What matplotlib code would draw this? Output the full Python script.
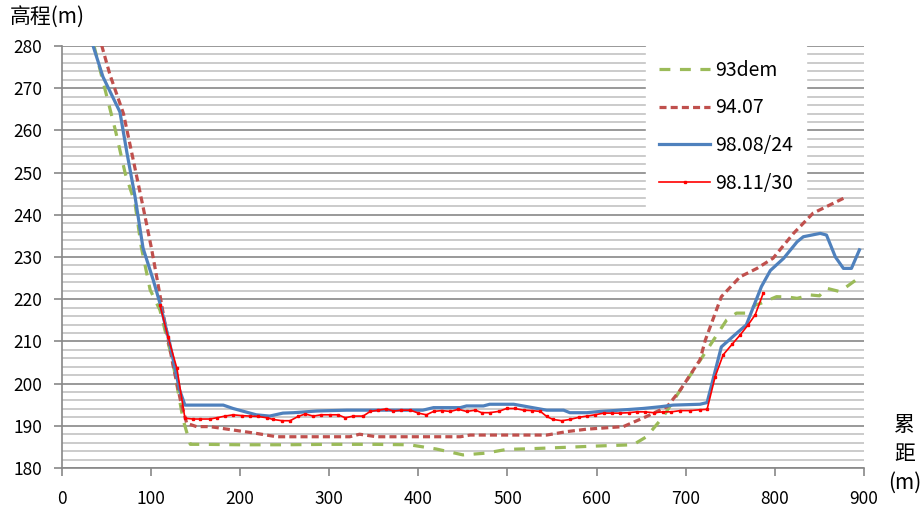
import matplotlib
matplotlib.use("Agg")
import matplotlib.pyplot as plt
from matplotlib.ticker import MultipleLocator

plt.rcParams['font.family'] = ['Noto Sans CJK SC', 'DejaVu Sans']

# 93dem
dem93_x = [36, 48, 60, 71, 82, 89, 99, 110, 124, 136, 144, 160, 200, 250, 300, 350, 390,
           420, 450, 475, 499, 530, 566, 600, 641, 656, 675, 694, 709, 724, 746, 757,
           768, 778, 784, 802, 815, 825, 840, 850, 858, 873, 894]
dem93_y = [280, 270, 260, 249.8, 242.7, 232.4, 222.2, 217.4, 205.6, 191.4, 185.6, 185.6,
           185.5, 185.5, 185.6, 185.6, 185.5, 184.5, 183.1, 183.5, 184.4, 184.6, 184.9,
           185.2, 185.5, 187.4, 192.2, 198.5, 203.2, 208, 215.1, 216.7, 216.7, 218.6,
           219, 220.6, 220.5, 220.2, 221, 220.8, 222.6, 221.8, 225]

# 94.07
r9407_x = [44.5, 54, 69, 80, 91, 100.5, 107, 115, 125, 133, 140, 151, 166, 192, 218, 241,
           300, 323, 334, 353, 400, 447, 458, 500, 544, 566, 589, 630, 656, 679, 694,
           716, 722, 740, 761, 780, 798, 821, 843, 877]
r9407_y = [280.2, 273.1, 264, 253, 241.9, 232, 224.5, 215, 204, 196, 190.6, 189.8, 189.8,
           189, 188.2, 187.4, 187.4, 187.4, 188, 187.4, 187.4, 187.4, 187.8, 187.8, 187.8,
           188.6, 189.2, 189.8, 192.2, 194.5, 198.5, 205.6, 210.3, 220.6, 225.3, 227.3,
           229.7, 235.6, 240.4, 243.9]

# 98.08/24
b9808_x = [35, 46, 54, 65, 73, 82, 91, 102.5, 110, 121, 132, 138, 160, 181, 192, 218, 233,
           248, 260, 286, 320, 357, 405, 417, 447, 454, 473, 480, 507, 544, 563, 570, 589,
           604, 619, 652, 671, 686, 716, 724, 740, 757, 768, 785, 795, 810, 825, 832, 851,
           858, 868, 877, 886, 895]
b9808_y = [280, 272.7, 269.2, 264.4, 254.6, 244.3, 232.1, 224.5, 219, 209.5, 198.5, 194.9,
           194.9, 194.9, 194.1, 192.6, 192.3, 193, 193.1, 193.5, 193.7, 193.7, 193.7,
           194.3, 194.3, 194.7, 194.7, 195.1, 195.1, 193.7, 193.7, 193.1, 193.1, 193.4,
           193.6, 194.1, 194.5, 194.9, 195.1, 195.5, 208.7, 211.9, 213.9, 223, 226.8,
           229.7, 233.6, 234.8, 235.6, 235.2, 230, 227.3, 227.3, 231.7]

# 98.11/30
r9811_x = [110, 119, 129, 138, 147, 155, 166, 174, 183, 192, 202, 211, 220, 230, 237, 247,
           256, 265, 273, 282, 291, 301, 310, 318, 327, 338, 346, 355, 364, 372, 381, 391,
           400, 409, 417, 426, 436, 445, 454, 464, 471, 480, 490, 499, 508, 518, 527, 537,
           544, 551, 561, 570, 580, 589, 598, 608, 617, 626, 636, 645, 654, 664, 675, 684,
           694, 705, 716, 724, 733, 742, 752, 761, 770, 778, 787]
r9811_y = [218.6, 211.1, 203.6, 191.8, 191.6, 191.6, 191.6, 191.9, 192.3, 192.6, 192.4,
           192.3, 192.2, 191.9, 191.5, 191.2, 191.2, 192.2, 192.8, 192.3, 192.6, 192.6,
           192.6, 191.9, 192.3, 192.3, 193.4, 193.7, 194, 193.5, 193.7, 193.7, 193, 192.6,
           193.4, 193.6, 193.4, 193.9, 193.4, 193.7, 193.1, 193.1, 193.4, 194.1, 194.1,
           193.7, 193.6, 193.4, 192.2, 191.5, 191.2, 191.5, 192, 192.3, 192.6, 193, 193,
           193, 193.1, 193.3, 193.3, 193.1, 193.3, 193.3, 193.6, 193.6, 193.8, 193.9,
           201.6, 206.8, 209.3, 211.5, 213.9, 216.3, 221.4]

fig = plt.figure(figsize=(9.22, 5.09), dpi=100)
ax = fig.add_axes([0.0672, 0.0806, 0.8698, 0.829])

ax.plot(dem93_x, dem93_y, color='#9BBB59', lw=2.3, dashes=(3.4, 3.0), label='93dem')
ax.plot(r9407_x, r9407_y, color='#C0504D', lw=2.3, dashes=(2.2, 1.3), label='94.07')
ax.plot(b9808_x, b9808_y, color='#4F81BD', lw=2.3, label='98.08/24')
ax.plot(r9811_x, r9811_y, color='#FF0000', lw=1.2, marker='s', ms=2, label='98.11/30')

ax.set_xlim(0, 900)
ax.set_ylim(180, 280)
ax.xaxis.set_major_locator(MultipleLocator(100))
ax.yaxis.set_major_locator(MultipleLocator(10))
ax.yaxis.set_minor_locator(MultipleLocator(2))
ax.grid(axis='y', which='major', color='#888888', lw=1.2)
ax.grid(axis='y', which='minor', color='#c2c2c2', lw=1.2)
ax.set_axisbelow(True)

for s in ['top', 'right']:
    ax.spines[s].set_visible(False)
for s in ['left', 'bottom']:
    ax.spines[s].set_color('#888888')
    ax.spines[s].set_linewidth(1.2)
ax.tick_params(axis='both', which='major', length=6, width=1.2, color='#888888',
               labelsize=12.5, direction='out')
ax.tick_params(axis='y', which='minor', length=0)
ax.tick_params(axis='x', pad=10)
ax.tick_params(axis='y', pad=8)

fig.text(0.011, 0.965, '高程(m)', fontsize=15, va='center', ha='left')
fig.text(0.981, 0.108, '累\n距\n(m)', fontsize=15, va='center', ha='center',
         linespacing=1.4)

leg = ax.legend(loc='upper left', bbox_to_anchor=(0.728, 1.0), fontsize=14,
                handlelength=2.6, labelspacing=0.86, handletextpad=0.25,
                borderpad=0.7, borderaxespad=0, frameon=True, fancybox=False)
leg.get_frame().set_facecolor('white')
leg.get_frame().set_edgecolor('white')
leg.get_frame().set_alpha(1)

fig.savefig('out.png', dpi=100)
